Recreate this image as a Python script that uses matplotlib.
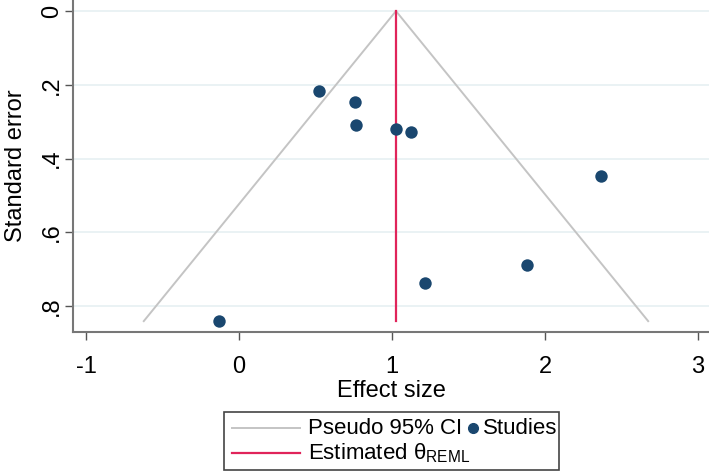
import numpy as np
import matplotlib
matplotlib.use("Agg")
import matplotlib.pyplot as plt
from matplotlib.lines import Line2D
from matplotlib.patches import Rectangle

plt.rcParams['font.family'] = ['Liberation Sans', 'DejaVu Sans']
plt.rcParams['mathtext.fontset'] = 'custom'
plt.rcParams['mathtext.rm'] = 'Liberation Sans'
plt.rcParams['axes.unicode_minus'] = False

# Studies: effect size and standard error
effect = np.array([0.523, 0.760, 0.765, 1.026, 1.124, 2.368, 1.880, 1.218, -0.133])
se = np.array([0.216, 0.248, 0.309, 0.321, 0.329, 0.447, 0.688, 0.737, 0.841])
theta = 1.026
z = 1.96

xticks = [-1, 0, 1, 2, 3]
yticks = [0, 0.2, 0.4, 0.6, 0.8]
ytick_labels = ['0', '.2', '.4', '.6', '.8']

W, H = 709, 473
fig = plt.figure(figsize=(W / 100, H / 100), dpi=100)
ax = fig.add_axes([73 / W, 1 - 332 / H, 1 - 73 / W, 332 / H])

navy = '#1a476f'
red = '#e0245a'
grey = '#c4c4c4'

# funnel
se_max = se.max()
ax.plot([theta - z * se_max, theta, theta + z * se_max], [se_max, 0, se_max],
        color=grey, lw=1.4, zorder=2)
ax.plot([theta, theta], [0, se_max], color=red, lw=1.6, zorder=3)
ax.scatter(effect, se, s=80, color=navy, zorder=4, linewidths=0)

ax.set_xlim(-1.085, 3.072)
ax.set_ylim(0.8705, -0.030)
ax.set_xticks(xticks)
ax.set_yticks(yticks)
ax.set_yticklabels(ytick_labels, rotation=90, va='center')
ax.tick_params(labelsize=17, length=6, width=1, color='#555555')
ax.tick_params(axis='x', pad=11)
ax.tick_params(axis='y', pad=1)
ax.grid(axis='y', color='#e6f0f2', lw=1.2)
ax.set_axisbelow(True)
for s in ['top', 'right']:
    ax.spines[s].set_visible(False)
for s in ['left', 'bottom']:
    ax.spines[s].set_color('#777777')
    ax.spines[s].set_linewidth(1.5)
ax.set_xlabel('Effect size', fontsize=17, labelpad=2)
ax.set_ylabel('Standard error', fontsize=17, labelpad=10)

# legend box, drawn in pixels
def fx(px):
    return px / W

def fy(py):
    return 1 - py / H

fig.patches.append(Rectangle((fx(224), fy(470)), fx(559) - fx(224), fy(412) - fy(470),
                             transform=fig.transFigure, fill=False, ec='#444444', lw=1.2))
fig.lines.append(Line2D([fx(232), fx(300)], [fy(428), fy(428)], transform=fig.transFigure,
                        color=grey, lw=1.4))
fig.lines.append(Line2D([fx(232), fx(300)], [fy(453), fy(453)], transform=fig.transFigure,
                        color=red, lw=1.6))
fig.lines.append(Line2D([fx(473)], [fy(428)], transform=fig.transFigure, marker='o',
                        ms=7, color=navy, ls='none'))
fig.text(fx(308), fy(428), 'Pseudo 95% CI', fontsize=16, va='center')
fig.text(fx(483), fy(428), 'Studies', fontsize=16, va='center')
fig.text(fx(308), fy(453), r'Estimated θ$_{\mathrm{REML}}$', fontsize=16, va='center')

fig.savefig('out.png', dpi=100)
